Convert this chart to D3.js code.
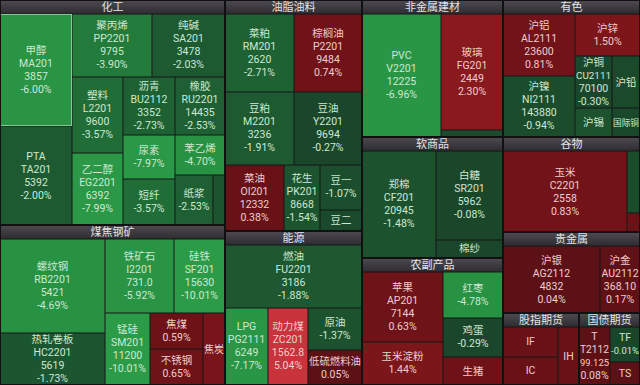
<!DOCTYPE html>
<html>
<head>
<meta charset="utf-8">
<style>
  body { margin: 0; background: #161616; }
  svg { display: block; }
  text { font-family: Roboto, "Noto Sans CJK SC", sans-serif; }
</style>
</head>
<body>
<div class="start"></div>
<script src="https://cdn.jsdelivr.net/npm/d3@7/dist/d3.min.js" charset="utf-8"></script>
<script>
// sector names
var sectors = ["化工", "煤焦钢矿", "油脂油料", "能源", "非金属建材", "软商品", "农副产品",
               "有色", "谷物", "贵金属", "股指期货", "国债期货"];

// contracts (one entry per cell)
var names = ["甲醇", "PTA", "聚丙烯", "纯碱", "塑料", "乙二醇", "沥青", "橡胶", "尿素", "短纤", "苯乙烯", "纸浆", "其他",
             "螺纹钢", "热轧卷板", "铁矿石", "硅铁", "锰硅", "焦煤", "不锈钢", "焦炭",
             "菜粕", "棕榈油", "豆粕", "豆油", "菜油", "花生", "豆一", "豆二",
             "燃油", "LPG", "动力煤", "原油", "低硫燃料油",
             "PVC", "玻璃", "其他",
             "郑棉", "白糖", "棉纱",
             "苹果", "玉米淀粉", "红枣", "鸡蛋", "生猪",
             "沪铝", "沪镍", "沪锌", "沪铜", "沪铅", "沪锡", "国际铜",
             "玉米", "粳米", "强麦",
             "沪银", "沪金",
             "IF", "IC", "IH",
             "T", "TF", "TS"];

var codes = ["MA201", "TA201", "PP2201", "SA201", "L2201", "EG2201", "BU2112", "RU2201", "", "", "", "", "",
             "RB2201", "HC2201", "I2201", "SF201", "SM201", "", "", "",
             "RM201", "P2201", "M2201", "Y2201", "OI201", "PK201", "", "",
             "FU2201", "PG2111", "ZC201", "", "",
             "V2201", "FG201", "",
             "CF201", "SR201", "",
             "AP201", "", "", "", "",
             "AL2111", "NI2111", "", "CU2111", "", "", "",
             "C2201", "", "",
             "AG2112", "AU2112",
             "", "", "",
             "T2112", "", ""];

var prices = ["3857", "5392", "9795", "3478", "9600", "6392", "3352", "14435", null, null, null, null, null,
              "5421", "5619", "731.0", "15630", "11200", null, null, null,
              "2620", "9484", "3236", "9694", "12332", "8668", null, null,
              "3186", "6249", "1562.8", null, null,
              "12225", "2449", null,
              "20945", "5962", null,
              "7144", null, null, null, null,
              "23600", "143880", null, "70100", null, null, null,
              "2558", null, null,
              "4832", "368.10",
              null, null, null,
              "99.125", null, null];

// change in %
var changes = [-6.00, -2.00, -3.90, -2.03, -3.57, -7.99, -2.73, -2.53, -7.97, -3.57, -4.70, -2.53, -1.5,
               -4.69, -1.73, -5.92, -10.01, -10.01, 0.59, 0.65, 1.2,
               -2.71, 0.74, -1.91, -0.27, 0.38, -1.54, -1.07, -0.5,
               -1.88, -7.17, 5.04, -1.37, 0.05,
               -6.96, 2.30, -0.8,
               -1.48, -0.08, -0.3,
               0.63, 1.44, -4.78, -0.29, 0.6,
               0.81, -0.94, 1.50, -0.30, -0.6, -1.38, -0.4,
               0.83, -1.0, 0.5,
               0.04, 0.17,
               0.4, 0.4, 0.4,
               0.08, -0.01, 0.03];

// cell weight
var sizes = [8600, 7601, 5375, 4904, 4133, 3916, 3216, 3093, 2440, 2551, 2133, 2026, 640,
             10817, 5984, 5596, 4136, 3551, 2091, 2091, 1736,
             5729, 5646, 5362, 5284, 4145, 2529, 2012, 939,
             9494, 3642, 3388, 2495, 2079,
             10823, 8010, 483,
             8954, 6743, 1364,
             6373, 3915, 3102, 2630, 1888,
             4972, 4892, 3041, 2143, 1622, 1195, 904,
             11780, 945, 290,
             7857, 3240,
             2048, 1912, 1512,
             2232, 1303, 857];

// nesting: "x" = side by side, "y" = stacked; numbers are cells, {s, t} are sectors
var layout = ["x",
  ["y",
    {s: 0, t: ["x", ["y", 0, 1], ["y", ["x", 2, 3], ["x", ["y", 4, 5], ["y", ["x", 6, 7], ["x", ["y", 8, 9], ["y", 10, ["x", 11, 12]]]]]]]},
    {s: 1, t: ["x", ["y", 13, 14], ["y", ["x", 15, 16], ["x", 17, ["y", 18, 19], 20]]]}
  ],
  ["y",
    {s: 2, t: ["y", ["x", 21, 22], ["x", 23, 24], ["x", 25, 26, ["y", 27, 28]]]},
    {s: 3, t: ["y", 29, ["x", 30, 31, ["y", 32, 33]]]}
  ],
  ["y",
    {s: 4, t: ["x", 34, ["y", 35, 36]]},
    {s: 5, t: ["x", 37, ["y", 38, 39]]},
    {s: 6, t: ["x", ["y", 40, 41], ["y", 42, 43, 44]]}
  ],
  ["y",
    {s: 7, t: ["x", ["y", 45, 46], ["y", 47, ["x", 48, 49], ["x", 50, 51]]]},
    {s: 8, t: ["x", 52, ["y", 53, 54]]},
    {s: 9, t: ["x", 55, 56]},
    ["x", {s: 10, t: ["x", ["y", 57, 58], 59]}, {s: 11, t: ["x", 60, ["y", 61, 62]]}]
  ]
];

var W = 640, H = 385, HEAD = 14, FS = 10.5, LH = 13;

function build(n) {
  if (typeof n === "number") return {leaf: n};
  if (Array.isArray(n)) return {dir: n[0], children: n.slice(1).map(build)};
  return {sector: n.s, dir: n.t[0], children: n.t.slice(1).map(build)};
}

var root = d3.hierarchy(build(layout))
  .sum(function(d) { return d.leaf != null ? sizes[d.leaf] : 0; });

d3.treemap()
  .size([W, H])
  .paddingTop(function(d) { return d.data.sector != null ? HEAD : 0; })
  .tile(function(node, x0, y0, x1, y1) {
    (node.data.dir === "x" ? d3.treemapDice : d3.treemapSlice)(node, x0, y0, x1, y1);
  })(root);

var green = d3.scaleLinear().domain([0, -1, -2, -3.5, -4.5, -10])
  .range(["#1a452a", "#1b4d2c", "#1d5a31", "#1f6a36", "#279242", "#2b9b48"]).clamp(true);
var red = d3.scaleLinear().domain([0, 0.5, 2.3, 5])
  .range(["#5a1115", "#6c1217", "#881a1e", "#c8333c"]).clamp(true);
function color(c) { return c < 0 ? green(c) : red(c); }

var svg = d3.select(".start").append("svg")
  .attr("width", W).attr("height", H);

var grad = svg.append("defs").append("linearGradient")
  .attr("id", "head").attr("x1", 0).attr("y1", 0).attr("x2", 0).attr("y2", 1);
grad.append("stop").attr("offset", "0%").attr("stop-color", "#4c4a50");
grad.append("stop").attr("offset", "100%").attr("stop-color", "#2f2d32");

svg.append("rect").attr("width", W).attr("height", H).attr("fill", "#161616");

// cells
var leaves = root.leaves();
var cell = svg.selectAll(".cell").data(leaves).enter().append("g").attr("class", "cell");

cell.append("rect")
  .attr("x", function(d) { return d.x0 + 0.5; })
  .attr("y", function(d) { return d.y0 + 0.5; })
  .attr("width", function(d) { return Math.max(0, d.x1 - d.x0 - 1); })
  .attr("height", function(d) { return Math.max(0, d.y1 - d.y0 - 1); })
  .attr("fill", function(d) { return color(changes[d.data.leaf]); })
  .attr("stroke", function(d) { return d.data.leaf === 0 ? "#86c993" : "none"; })
  .attr("stroke-width", 1);

function labelLines(d) {
  var i = d.data.leaf, w = d.x1 - d.x0, h = d.y1 - d.y0;
  var pct = changes[i].toFixed(2) + "%";
  if (w < 18 || h < 12) return [];
  if (w < 29 || h < 33) return [names[i]];
  if (h < 52 || !codes[i]) return [names[i], pct];
  return [names[i], codes[i], prices[i], pct];
}

cell.each(function(d) {
  var lines = labelLines(d);
  var w = d.x1 - d.x0;
  var cx = (d.x0 + d.x1) / 2, cy = (d.y0 + d.y1) / 2;
  d3.select(this).selectAll("text").data(lines).enter().append("text")
    .attr("x", cx)
    .attr("y", function(t, k) { return cy + (k - (lines.length - 1) / 2) * LH; })
    .attr("text-anchor", "middle")
    .attr("dominant-baseline", "central")
    .attr("font-size", FS)
    .attr("fill", changes[d.data.leaf] < 0 ? "#cde8d2" : "#f0cdcd")
    .text(function(t) { return t; })
    .each(function() {
      // shrink labels that do not fit the cell width
      var len = this.getComputedTextLength();
      if (len > w - 2) d3.select(this).attr("font-size", Math.max(7, FS * (w - 2) / len));
    });
});

// sector headers
var secs = root.descendants().filter(function(d) { return d.data.sector != null; });

svg.selectAll(".sec").data(secs).enter().append("rect")
  .attr("x", function(d) { return d.x0 + 0.5; })
  .attr("y", function(d) { return d.y0 + 0.5; })
  .attr("width", function(d) { return d.x1 - d.x0 - 1; })
  .attr("height", HEAD - 1)
  .attr("fill", "url(#head)");

svg.selectAll(".sectxt").data(secs).enter().append("text")
  .attr("x", function(d) { return (d.x0 + d.x1) / 2; })
  .attr("y", function(d) { return d.y0 + HEAD / 2 + 0.5; })
  .attr("text-anchor", "middle")
  .attr("dominant-baseline", "central")
  .attr("font-size", 11)
  .attr("fill", "#e4e4e4")
  .text(function(d) { return sectors[d.data.sector]; });

// sector outlines
svg.selectAll(".secbox").data(secs).enter().append("rect")
  .attr("x", function(d) { return d.x0 + 0.5; })
  .attr("y", function(d) { return d.y0 + 0.5; })
  .attr("width", function(d) { return d.x1 - d.x0 - 1; })
  .attr("height", function(d) { return d.y1 - d.y0 - 1; })
  .attr("fill", "none")
  .attr("stroke", "#111")
  .attr("stroke-width", 1);
</script>
</body>
</html>
